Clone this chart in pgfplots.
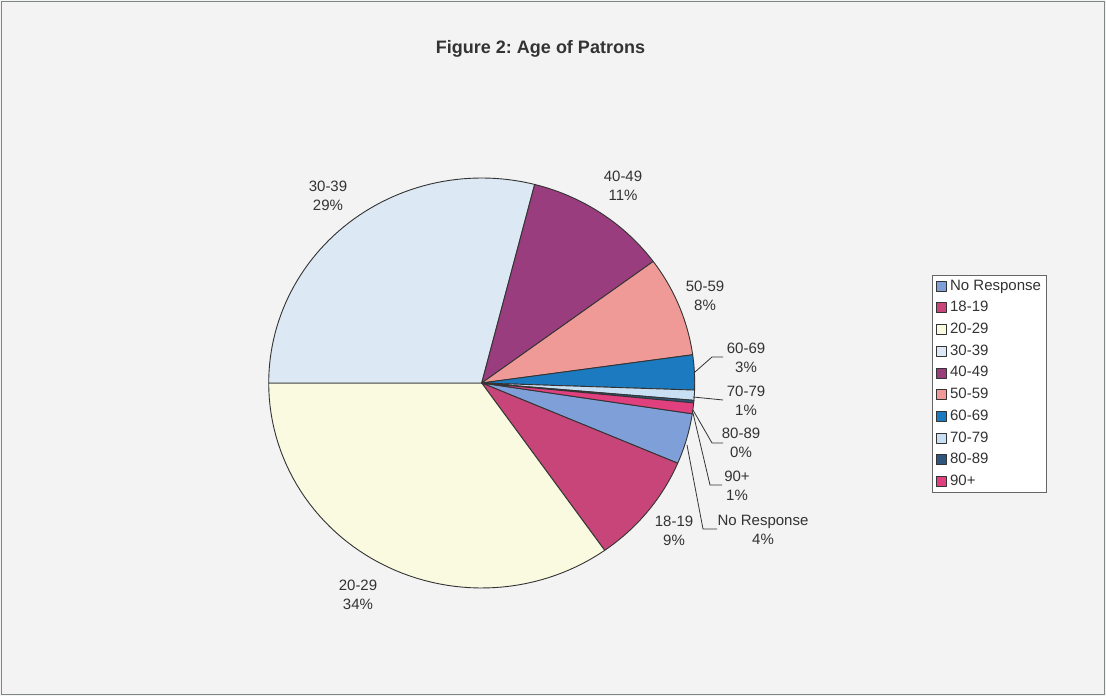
\documentclass[border=0pt]{standalone}
\usepackage{pgfplots}
\pgfplotsset{compat=1.18}
\usepackage{pgfplotstable}
\usepackage{fontspec}
\setmainfont{Liberation Sans}
\frenchspacing
\definecolor{c0}{HTML}{7F9FD8}
\definecolor{c1}{HTML}{C8457A}
\definecolor{c2}{HTML}{FAFAE0}
\definecolor{c3}{HTML}{DCE8F4}
\definecolor{c4}{HTML}{993D7F}
\definecolor{c5}{HTML}{F09A98}
\definecolor{c6}{HTML}{1C7BC0}
\definecolor{c7}{HTML}{C9E0F4}
\definecolor{c8}{HTML}{2F557A}
\definecolor{c9}{HTML}{E0407E}
\definecolor{txt}{HTML}{333333}
\definecolor{bg}{HTML}{F3F3F3}
\definecolor{frame}{HTML}{808585}

\pgfplotstableread[col sep=comma]{
label,value
No Response,4.0
18-19,8.8
20-29,34.8
30-39,29.0
40-49,10.9
50-59,7.9
60-69,2.75
70-79,0.8
80-89,0.2
90+,0.85
}\agedata

\tikzset{slice/.style={draw=black!80, line width=0.9pt, line join=round}}
\def\cum{0}
\def\startang{-8.64}

\begin{document}
\begin{tikzpicture}
\begin{axis}[
  x=1pt, y=1pt, xmin=0, xmax=1106, ymin=0, ymax=696,
  hide axis, clip=false,
  legend cell align=left,
  legend image code/.code={\draw[#1] (0pt,-5pt) rectangle (10pt,5pt);},
  legend style={at={(0.8427,0.6049)}, anchor=north west, draw=black!60, fill=white,
    font=\fontsize{15}{17}\selectfont, text=txt, row sep=4.7pt, inner xsep=3.5pt, inner ysep=2.5pt,
    nodes={inner sep=2pt, text height=10.5pt, text depth=2.5pt},
    /tikz/every odd column/.append style={column sep=1.5pt}},
]
\fill[bg] (0,0) rectangle (1106,696);
\draw[frame, line width=1.5pt] (1.5,1.5) rectangle (1104.5,694.5);

\pgfplotsinvokeforeach{0,...,9}{
  \pgfplotstablegetelem{#1}{value}\of\agedata
  \pgfmathsetmacro{\angA}{\startang-3.6*\cum}
  \pgfmathsetmacro{\cumnew}{\cum+\pgfplotsretval}
  \xdef\cum{\cumnew}
  \pgfmathsetmacro{\angB}{\startang-3.6*\cum}
  \pgfplotstablegetelem{#1}{label}\of\agedata
  \let\lab\pgfplotsretval
  \edef\doslice{\noexpand\addplot[slice, fill=c#1, domain=\angB:\angA, samples=60] ({481.7+213*cos(x)},{313+205*sin(x)}) -- (481.7,313) -- cycle;
    \noexpand\addlegendentry{\lab}}
  \doslice
}

\node[font=\bfseries\fontsize{18}{20}\selectfont, text=txt, anchor=base] at (540.5,642.7) {Figure 2: Age of Patrons};

\begin{scope}[every node/.style={font=\fontsize{15}{19}\selectfont, text=txt, align=center}]
\node at (328,500.5) {30-39\\29\%};
\node at (623,510) {40-49\\11\%};
\node at (705,400.5) {50-59\\8\%};
\node at (746,338.5) {60-69\\3\%};
\node at (746,295.5) {70-79\\1\%};
\node at (741,253) {80-89\\0\%};
\node at (737,210) {90+\\1\%};
\node at (674,165) {18-19\\9\%};
\node at (763,166) {No Response\\4\%};
\node at (358,101.5) {20-29\\34\%};
\end{scope}

\begin{scope}[draw=txt, line width=0.8pt]
\draw (695,324) -- (712,339) -- (723,339);
\draw (693,299) -- (723,296);
\draw (693,286) -- (712,253) -- (723,253);
\draw (693,283) -- (710,211) -- (722,211);
\draw (687,251) -- (703,167) -- (717,167);
\end{scope}
\end{axis}
\end{tikzpicture}
\end{document}
